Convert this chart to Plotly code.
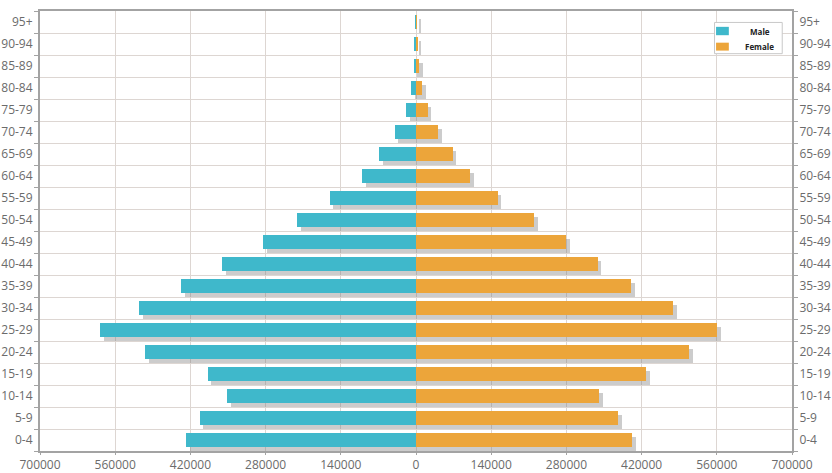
import plotly.graph_objects as go

# Age groups, youngest at the bottom
age_groups = ["0-4", "5-9", "10-14", "15-19", "20-24", "25-29", "30-34", "35-39",
              "40-44", "45-49", "50-54", "55-59", "60-64", "65-69", "70-74",
              "75-79", "80-84", "85-89", "90-94", "95+"]

male = [428000, 403000, 352000, 388000, 504000, 588000, 515000, 437000,
        361000, 285000, 222000, 161000, 101000, 69000, 40000,
        18500, 9000, 4500, 2000, 800]

female = [403000, 376000, 341000, 429000, 509000, 560000, 478000, 401000,
          338000, 279000, 220000, 152000, 101000, 68000, 41500,
          21500, 12000, 5500, 3000, 1500]

tick_values = [-700000, -560000, -420000, -280000, -140000, 0,
               140000, 280000, 420000, 560000, 700000]
tick_labels = ["700000", "560000", "420000", "280000", "140000", "0",
               "140000", "280000", "420000", "560000", "700000"]

series_names = ["Male", "Female"]

MALE_COLOR = "#3fb8cb"
FEMALE_COLOR = "#eca53a"
SHADOW = "rgba(120,120,120,0.38)"
BAR_W = 0.62
SHADOW_DX = 7000      # drop shadow shift along the value axis
SHADOW_DY = 0.17      # drop shadow shift along the category axis

fig = go.Figure()

# soft drop shadows under each bar
fig.add_trace(go.Bar(
    y=age_groups, x=[-v for v in male], base=SHADOW_DX, orientation="h",
    width=BAR_W, offset=-BAR_W / 2 - SHADOW_DY,
    marker=dict(color=SHADOW, line=dict(width=0)),
    showlegend=False, hoverinfo="skip"))
fig.add_trace(go.Bar(
    y=age_groups, x=female, base=SHADOW_DX, orientation="h",
    width=BAR_W, offset=-BAR_W / 2 - SHADOW_DY,
    marker=dict(color=SHADOW, line=dict(width=0)),
    showlegend=False, hoverinfo="skip"))

# population bars
fig.add_trace(go.Bar(
    name=series_names[0], y=age_groups, x=[-v for v in male], orientation="h",
    width=BAR_W, offset=-BAR_W / 2,
    marker=dict(color=MALE_COLOR, line=dict(width=0)),
    customdata=male, showlegend=False,
    hovertemplate="%{y}: %{customdata}<extra>Male</extra>"))
fig.add_trace(go.Bar(
    name=series_names[1], y=age_groups, x=female, orientation="h",
    width=BAR_W, offset=-BAR_W / 2,
    marker=dict(color=FEMALE_COLOR, line=dict(width=0)),
    showlegend=False,
    hovertemplate="%{y}: %{x}<extra>Female</extra>"))

# invisible trace that carries the mirrored right-hand axis
fig.add_trace(go.Scatter(
    y=age_groups, x=[0] * len(age_groups), yaxis="y2", mode="markers",
    marker=dict(opacity=0), showlegend=False, hoverinfo="skip"))

axis_font = dict(family="Open Sans, Noto Sans, sans-serif", size=12, color="#6b6b6b")
grid_color = "#ddd6d2"
line_color = "#a3a3a3"

yaxis_common = dict(
    type="category", categoryorder="array", categoryarray=age_groups,
    range=[-0.5, len(age_groups) - 0.5], automargin=False,
    tickson="boundaries", ticks="outside", ticklen=4, tickcolor=line_color,
    showline=True, linecolor=line_color, linewidth=2,
    tickfont=axis_font, ticklabelstandoff=3, fixedrange=True,
)

# compact boxed legend in the upper right corner of the plot area
legend_box = dict(x0=0.897, x1=0.987, y0=0.903, y1=0.974)
swatches = [
    (series_names[0], MALE_COLOR, 0.945, 0.964),
    (series_names[1], FEMALE_COLOR, 0.910, 0.928),
]
shapes = [dict(type="rect", xref="paper", yref="paper", **legend_box,
               fillcolor="white", line=dict(color="#c8c8c8", width=1), layer="above")]
annotations = []
for name, color, y0, y1 in swatches:
    shapes.append(dict(type="rect", xref="paper", yref="paper",
                       x0=0.899, x1=0.916, y0=y0, y1=y1,
                       fillcolor=color, line=dict(width=0), layer="above"))
    annotations.append(dict(xref="paper", yref="paper", x=0.957, y=(y0 + y1) / 2,
                            text=name, showarrow=False, xanchor="center", yanchor="middle",
                            font=dict(family="Open Sans, Noto Sans, sans-serif", size=8,
                                      color="#222222", weight="bold")))

fig.update_layout(
    width=832, height=473,
    margin=dict(l=40, r=40, t=11, b=22, autoexpand=False),
    paper_bgcolor="white", plot_bgcolor="white",
    barmode="overlay", bargap=0,
    xaxis=dict(
        range=[-700000, 700000], tickvals=tick_values, ticktext=tick_labels,
        showgrid=True, gridcolor=grid_color, gridwidth=1, zeroline=False,
        showline=True, linecolor=line_color, linewidth=2, mirror=True,
        ticks="outside", ticklen=2, tickcolor=line_color, automargin=False,
        tickfont=axis_font, fixedrange=True,
    ),
    yaxis=dict(**yaxis_common, side="left",
               showgrid=True, gridcolor=grid_color, gridwidth=1),
    yaxis2=dict(**yaxis_common, side="right", overlaying="y",
                matches="y", showgrid=False),
    shapes=shapes,
    annotations=annotations,
    showlegend=False,
)

fig.write_html("out.html")
